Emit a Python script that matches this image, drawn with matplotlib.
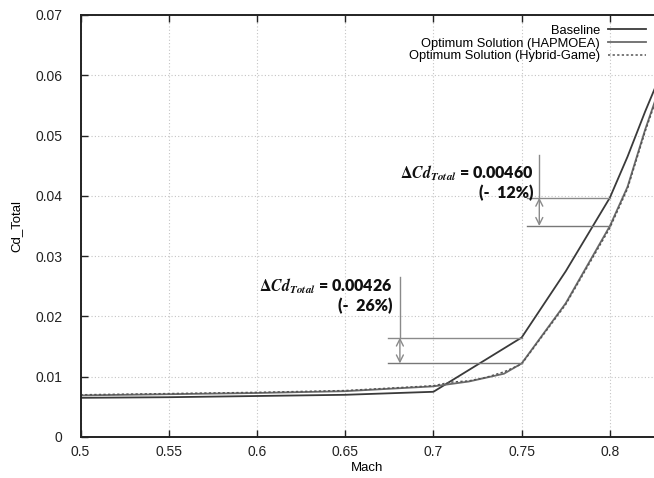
import matplotlib
matplotlib.use("Agg")
import matplotlib.pyplot as plt

mach_base = [0.5, 0.55, 0.6, 0.65, 0.7, 0.75, 0.775, 0.8, 0.81, 0.82, 0.83]
cd_base = [0.0065, 0.0066, 0.0068, 0.0070, 0.0075, 0.0165, 0.0275, 0.0397, 0.0465, 0.0540, 0.0610]

mach_hap = [0.5, 0.55, 0.6, 0.65, 0.7, 0.72, 0.74, 0.75, 0.775, 0.8, 0.81, 0.82, 0.83]
cd_hap = [0.0069, 0.0071, 0.0073, 0.0076, 0.0084, 0.0092, 0.0105, 0.0122, 0.0222, 0.0350, 0.0415, 0.0510, 0.0595]

mach_hyb = [0.5, 0.55, 0.6, 0.65, 0.7, 0.71, 0.72, 0.73, 0.74, 0.75, 0.775, 0.8, 0.81, 0.82, 0.83]
cd_hyb = [0.0070, 0.0072, 0.0074, 0.0077, 0.0085, 0.0091, 0.0093, 0.0099, 0.0108, 0.0121, 0.0220, 0.0347, 0.0412, 0.0507, 0.0592]

labels = ["Baseline", "Optimum Solution (HAPMOEA)", "Optimum Solution (Hybrid-Game)"]

# annotation values
ann1 = (0.0165, 0.0122)
ann2 = (0.0397, 0.0350)

plt.rcParams['font.family'] = ['Liberation Sans', 'DejaVu Sans']

fig = plt.figure(figsize=(6.54, 4.78), dpi=100)
ax = fig.add_axes([80.5/654, 41/478, (654-80.5)/654, 422/478])

ax.plot(mach_base, cd_base, color='#3a3a3a', lw=1.3, label=labels[0])
ax.plot(mach_hap, cd_hap, color='#6a6a6a', lw=1.3, label=labels[1])
ax.plot(mach_hyb, cd_hyb, color='#555555', lw=1.1, ls=(0, (1.5, 1.5)), label=labels[2])

ax.set_xlim(0.5, 0.825)
ax.set_ylim(0, 0.07)
ax.set_xticks([0.5, 0.55, 0.6, 0.65, 0.7, 0.75, 0.8])
ax.set_xticklabels(["0.5", "0.55", "0.6", "0.65", "0.7", "0.75", "0.8"], family='Liberation Sans', fontsize=10)
ax.set_yticks([0, 0.01, 0.02, 0.03, 0.04, 0.05, 0.06, 0.07])
ax.set_yticklabels(["0", "0.01", "0.02", "0.03", "0.04", "0.05", "0.06", "0.07"], family='Liberation Sans', fontsize=10)
ax.tick_params(axis='y', direction='in', length=5, width=1, colors='#222222', pad=13)
ax.tick_params(axis='x', direction='in', length=5, width=1, top=True, colors='#222222', pad=6)
ax.tick_params(right=False)
ax.grid(True, ls=(0, (1, 2)), color='#c4c4c4', lw=0.8)
for s in ['left', 'bottom', 'top']:
    ax.spines[s].set_linewidth(1.4)
    ax.spines[s].set_color('#222222')
ax.spines['right'].set_visible(False)

ax.set_xlabel("Mach", fontsize=9.5, family='Liberation Sans', labelpad=2)
ax.set_ylabel("Cd_Total", fontsize=9.5, family='Liberation Sans', labelpad=9)

leg = ax.legend(loc='upper right', bbox_to_anchor=(1.0, 0.995), frameon=False, markerfirst=False,
                labelspacing=0.05, handlelength=3.0, handletextpad=0.6, borderaxespad=0.2,
                prop={'family': 'Liberation Sans', 'size': 9.3})
for t in leg.get_texts():
    t.set_ha('right')

gray = '#8a8a8a'
# annotation 1
ax.plot([0.674, 0.75], [ann1[0], ann1[0]], color=gray, lw=1.0)
ax.plot([0.674, 0.75], [ann1[1], ann1[1]], color='#777777', lw=1.0)
ax.plot([0.681, 0.681], [ann1[0], 0.0266], color=gray, lw=1.0)
ax.annotate("", xy=(0.681, ann1[1]), xytext=(0.681, ann1[0]),
            arrowprops=dict(arrowstyle='<->,head_length=0.5,head_width=0.25', color=gray, lw=1.0,
                            shrinkA=0, shrinkB=0))
# annotation 2
ax.plot([0.753, 0.8], [ann2[0], ann2[0]], color=gray, lw=1.0)
ax.plot([0.753, 0.8], [ann2[1], ann2[1]], color='#777777', lw=1.0)
ax.plot([0.76, 0.76], [ann2[0], 0.0468], color=gray, lw=1.0)
ax.annotate("", xy=(0.76, ann2[1]), xytext=(0.76, ann2[0]),
            arrowprops=dict(arrowstyle='<->,head_length=0.5,head_width=0.25', color=gray, lw=1.0,
                            shrinkA=0, shrinkB=0))

txt_kw = dict(fontsize=11.5, fontweight='heavy', family='Lato', color='#111111', math_fontfamily='stix')
ax.text(0.6768, 0.0250, r"$\mathbf{\Delta}\mathbfit{Cd}_{\mathbfit{Total}}$ = 0.00426", ha='right', va='center', **txt_kw)
ax.text(0.6768, 0.0217, "(-  26%)", ha='right', va='center', **txt_kw)
ax.text(0.7568, 0.0437, r"$\mathbf{\Delta}\mathbfit{Cd}_{\mathbfit{Total}}$ = 0.00460", ha='right', va='center', **txt_kw)
ax.text(0.7568, 0.0404, "(-  12%)", ha='right', va='center', **txt_kw)

fig.savefig("out.png", dpi=100)
